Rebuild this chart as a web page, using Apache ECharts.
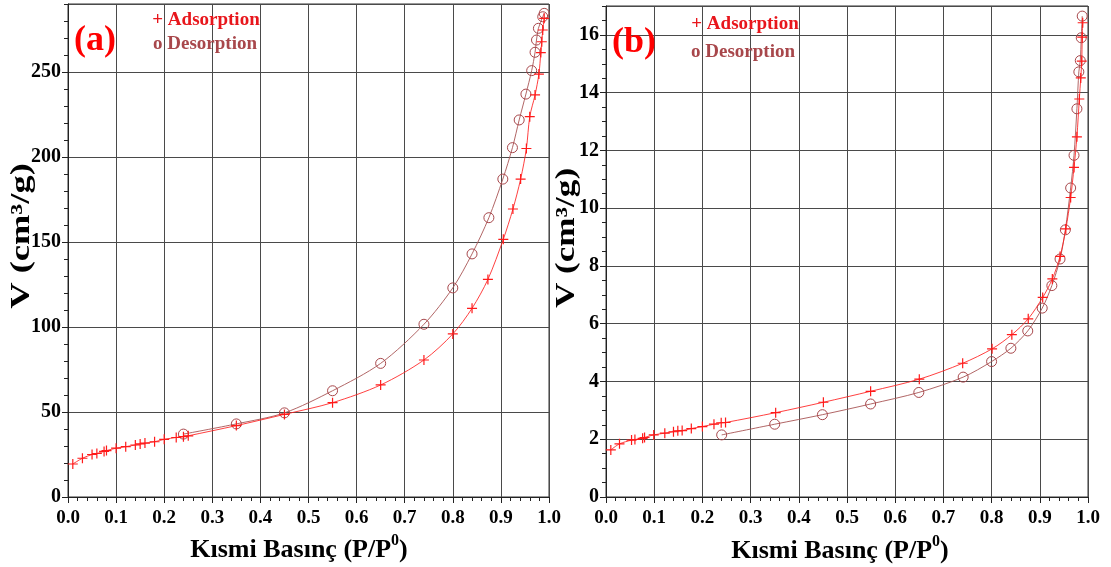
<!DOCTYPE html>
<html>
<head>
<meta charset="utf-8">
<script src="https://cdn.jsdelivr.net/npm/echarts@6/dist/echarts.min.js"></script>
<style>
html,body{margin:0;padding:0;background:#fff;}
#chart{width:1111px;height:567px;}
</style>
</head>
<body>
<div id="chart"></div>
<script>
// ---- data ----
const adsA_x = [0.01,0.03,0.05,0.06,0.075,0.08,0.1,0.12,0.14,0.15,0.16,0.18,0.2,0.225,0.24,0.25,0.35,0.45,0.55,0.65,0.74,0.8,0.84,0.873,0.905,0.925,0.941,0.953,0.96,0.971,0.979,0.983,0.985,0.987,0.99];
const adsA_y = [19.4,22.8,25,25.6,26.8,27.3,28.7,29.6,30.6,31.2,31.7,32.5,33.9,35,35.5,36,42,48.6,55.5,65.9,80.6,95.9,111,128,151.6,169.4,187,205,223.7,236.5,248.8,261.4,267.8,274.7,281.6];
const desA_x = [0.24,0.35,0.45,0.55,0.65,0.74,0.8,0.84,0.875,0.904,0.924,0.938,0.952,0.964,0.971,0.974,0.978,0.987,0.99];
const desA_y = [37,43,49.5,62.5,78.6,101.6,123,143,164.3,187,205.5,221.8,237,250.8,261.6,268.8,275.7,282.5,284.5];

const adsB_x = [0.01,0.028,0.053,0.06,0.076,0.08,0.099,0.122,0.14,0.149,0.158,0.177,0.2,0.224,0.239,0.248,0.352,0.451,0.549,0.65,0.74,0.801,0.842,0.876,0.906,0.926,0.942,0.954,0.964,0.971,0.977,0.982,0.985,0.987,0.988,0.989];
const adsB_y = [1.63,1.84,1.97,1.99,2.03,2.06,2.15,2.21,2.26,2.29,2.3,2.37,2.44,2.52,2.57,2.58,2.92,3.28,3.66,4.08,4.63,5.13,5.62,6.17,6.91,7.55,8.33,9.28,10.37,11.41,12.47,13.78,14.51,15.09,15.92,16.42];
const desB_x = [0.24,0.35,0.449,0.549,0.649,0.741,0.8,0.84,0.875,0.905,0.925,0.942,0.953,0.964,0.971,0.977,0.981,0.984,0.986,0.988];
const desB_y = [2.15,2.52,2.85,3.22,3.62,4.15,4.69,5.15,5.75,6.54,7.32,8.24,9.25,10.7,11.83,13.44,14.72,15.11,15.9,16.65];

const panelLabels = ['(a)', '(b)'];
const legendLabels = ['+ Adsorption', 'o Desorption'];
const xTitle = 'Kısmi Basınç (P/P';
const yTitle = 'V (cm³/g)';
const yMaxA = 290, yIntA = 50, yMinorA = 10;
const yMaxB = 17, yIntB = 2, yMinorB = 0.5;

// ---- styling ----
const FONT = 'Liberation Serif';
const RED = '#ff1a1a';
const BROWN = '#a8474b';
const GRIDC = '#4a4a4a';
const plusPath = 'path://M4.4,0H5.6V4.4H10V5.6H5.6V10H4.4V5.6H0V4.4H4.4Z';

function zip(xs, ys){ return xs.map((x,i)=>[x, ys[i]]); }

const grids = [
  {left:68, top:4, width:481, height:493, show:true, borderColor:'#333', borderWidth:1},
  {left:606, top:6, width:482, height:491, show:true, borderColor:'#333', borderWidth:1}
];

function mainX(gi){
  return {
    type:'value', gridIndex:gi, min:0, max:1, interval:0.1,
    axisLine:{show:true, onZero:false, lineStyle:{color:'#222', width:1}},
    axisTick:{show:true, length:6, lineStyle:{color:'#222'}},
    axisLabel:{color:'#000', fontFamily:FONT, fontWeight:'bold', fontSize:19, margin:12,
      formatter:v=>v.toFixed(1)},
    splitLine:{show:true, lineStyle:{color:GRIDC, width:1}}
  };
}
function minorX(gi){
  return {
    type:'value', gridIndex:gi, min:0, max:1, interval:0.02, position:'bottom',
    axisLine:{show:false}, axisLabel:{show:false}, splitLine:{show:false},
    axisTick:{show:true, length:4, lineStyle:{color:'#222'}}
  };
}
function mainY(gi, max, interval){
  return {
    type:'value', gridIndex:gi, min:0, max:max, interval:interval, position:'left',
    axisLine:{show:true, onZero:false, lineStyle:{color:'#222', width:1}},
    axisTick:{show:true, length:6, lineStyle:{color:'#222'}},
    axisLabel:{color:'#000', fontFamily:FONT, fontWeight:'bold', fontSize:20, margin:7,
      showMaxLabel:false,
      formatter:v=> (Math.abs(v/interval - Math.round(v/interval))<1e-6 && v<max) ? String(v) : ''},
    splitLine:{show:true, lineStyle:{color:GRIDC, width:1}}
  };
}
function minorY(gi, max, interval){
  return {
    type:'value', gridIndex:gi, min:0, max:max, interval:interval, position:'left', offset:0,
    axisLine:{show:false}, axisLabel:{show:false}, splitLine:{show:false},
    axisTick:{show:true, length:4, lineStyle:{color:'#222'}}
  };
}

function adsSeries(xi, yi, data){
  return {
    type:'line', xAxisIndex:xi, yAxisIndex:yi, data:data, smooth:0.3,
    symbol:plusPath, symbolSize:10, z:4,
    lineStyle:{color:'rgba(255,30,30,0.85)', width:1},
    itemStyle:{color:RED}
  };
}
function desSeries(xi, yi, data){
  return {
    type:'line', xAxisIndex:xi, yAxisIndex:yi, data:data, smooth:0.3,
    symbol:'circle', symbolSize:10, z:3,
    lineStyle:{color:'rgba(168,85,85,0.9)', width:1},
    itemStyle:{color:'rgba(0,0,0,0)', borderColor:BROWN, borderWidth:1}
  };
}

function txt(x, y, text, size, color, rot, sx){
  return {
    type:'text', x:x, y:y, rotation:rot||0, scaleX:sx||1, z:10,
    style:{text:text, fontFamily:FONT, fontWeight:'bold', fontSize:size, fill:color,
      align:'center', verticalAlign:'middle'}
  };
}
function xTitleEl(x, y){
  return {
    type:'text', x:x, y:y, z:10,
    style:{
      text:'{m|' + xTitle + '}{s|0}{m|)}',
      align:'center', verticalAlign:'middle',
      rich:{
        m:{fontFamily:FONT, fontWeight:'bold', fontSize:26, fill:'#000', lineHeight:30, verticalAlign:'bottom'},
        s:{fontFamily:FONT, fontWeight:'bold', fontSize:16, fill:'#000', lineHeight:30, verticalAlign:'top', padding:[0,0,0,0]}
      }
    }
  };
}

const chart = echarts.init(document.getElementById('chart'), null, {renderer:'canvas'});
chart.setOption({
  backgroundColor:'#ffffff',
  animation:false,
  grid:grids,
  xAxis:[mainX(0), minorX(0), mainX(1), minorX(1)],
  yAxis:[mainY(0, yMaxA, yIntA), minorY(0, yMaxA, yMinorA), mainY(1, yMaxB, yIntB), minorY(1, yMaxB, yMinorB)],
  series:[
    desSeries(0, 0, zip(desA_x, desA_y)),
    adsSeries(0, 0, zip(adsA_x, adsA_y)),
    desSeries(2, 2, zip(desB_x, desB_y)),
    adsSeries(2, 2, zip(adsB_x, adsB_y))
  ],
  graphic:[
    txt(95, 41, panelLabels[0], 36, '#ff0000'),
    txt(634, 43, panelLabels[1], 36, '#ff0000'),
    txt(206, 20, legendLabels[0], 19, '#e8161c'),
    txt(205, 44, legendLabels[1], 19, BROWN),
    txt(745, 24, legendLabels[0], 19, '#e8161c'),
    txt(743, 52, legendLabels[1], 19, BROWN),
    txt(22, 236, yTitle, 27, '#000', Math.PI/2, 1.35),
    txt(567, 238, yTitle, 27, '#000', Math.PI/2, 1.3),
    xTitleEl(299, 548),
    xTitleEl(840, 549)
  ]
});
</script>
</body>
</html>
